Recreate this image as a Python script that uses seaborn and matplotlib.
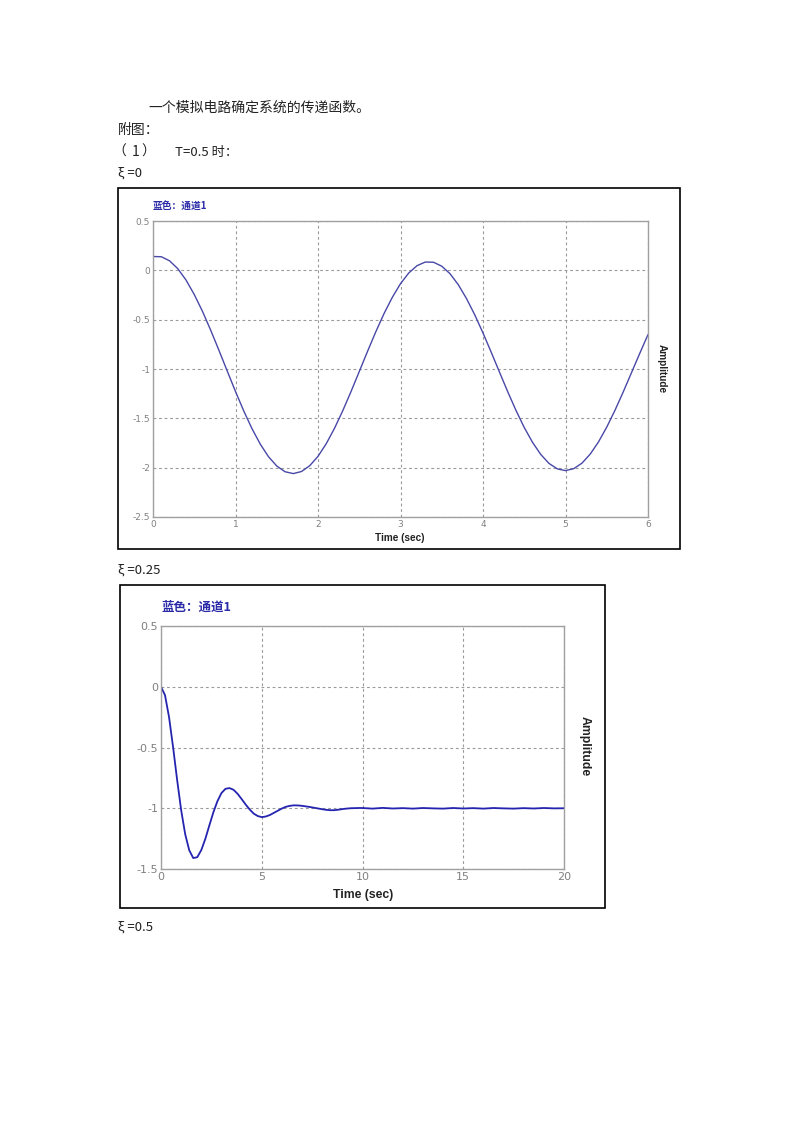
import matplotlib
matplotlib.use("Agg")
import matplotlib.pyplot as plt
from matplotlib.patches import Rectangle
import seaborn as sns
import pandas as pd

# ---------------- data ----------------
t1 = [0.0, 0.1, 0.2, 0.3, 0.4, 0.5, 0.6, 0.7, 0.8, 0.9,
      1.0, 1.1, 1.2, 1.3, 1.4, 1.5, 1.6, 1.7, 1.8, 1.9,
      2.0, 2.1, 2.2, 2.3, 2.4, 2.5, 2.6, 2.7, 2.8, 2.9,
      3.0, 3.1, 3.2, 3.3, 3.4, 3.5, 3.6, 3.7, 3.8, 3.9,
      4.0, 4.1, 4.2, 4.3, 4.4, 4.5, 4.6, 4.7, 4.8, 4.9,
      5.0, 5.1, 5.2, 5.3, 5.4, 5.5, 5.6, 5.7, 5.8, 5.9, 6.0]
y1 = [0.140, 0.138, 0.097, 0.017, -0.098, -0.245, -0.416, -0.608, -0.812, -1.021,
      -1.228, -1.425, -1.605, -1.761, -1.889, -1.983, -2.041, -2.060, -2.039, -1.980,
      -1.885, -1.757, -1.601, -1.423, -1.229, -1.026, -0.822, -0.624, -0.439, -0.275,
      -0.135, -0.027, 0.047, 0.084, 0.082, 0.042, -0.034, -0.145, -0.286, -0.451,
      -0.635, -0.831, -1.032, -1.231, -1.420, -1.593, -1.743, -1.866, -1.957, -2.012,
      -2.030, -2.010, -1.954, -1.862, -1.739, -1.589, -1.418, -1.232, -1.037, -0.842, -0.651]

t2 = [0.0, 0.2, 0.4, 0.6, 0.8, 1.0, 1.2, 1.4, 1.6, 1.8,
      2.0, 2.2, 2.4, 2.6, 2.8, 3.0, 3.2, 3.4, 3.6, 3.8,
      4.0, 4.2, 4.4, 4.6, 4.8, 5.0, 5.2, 5.4, 5.6, 5.8,
      6.0, 6.2, 6.4, 6.6, 6.8, 7.0, 7.2, 7.4, 7.6, 7.8,
      8.0, 8.2, 8.4, 8.6, 8.8, 9.0, 9.2, 9.4, 9.6, 9.8,
      10.0, 10.5, 11.0, 11.5, 12.0, 12.5, 13.0, 13.5, 14.0, 14.5,
      15.0, 15.5, 16.0, 16.5, 17.0, 17.5, 18.0, 18.5, 19.0, 19.5, 20.0]
y2 = [0.0, -0.070, -0.251, -0.498, -0.766, -1.015, -1.213, -1.345, -1.410, -1.403,
      -1.344, -1.252, -1.141, -1.033, -0.942, -0.875, -0.840, -0.834, -0.848, -0.881,
      -0.924, -0.969, -1.010, -1.044, -1.064, -1.073, -1.068, -1.056, -1.038, -1.020,
      -1.002, -0.988, -0.980, -0.976, -0.977, -0.980, -0.985, -0.990, -0.996, -1.002,
      -1.008, -1.013, -1.016, -1.016, -1.012, -1.007, -1.003, -1.000, -0.999, -0.998,
      -0.998, -1.003, -0.997, -1.002, -0.999, -1.003, -0.998, -1.001, -1.003, -0.998,
      -1.002, -0.999, -1.003, -0.998, -1.001, -1.003, -0.999, -1.002, -0.998, -1.001, -1.000]

x1_ticks = [0, 1, 2, 3, 4, 5, 6]
y1_ticks = [0.5, 0, -0.5, -1, -1.5, -2, -2.5]
y1_labels = ["0.5", "0", "-0.5", "-1", "-1.5", "-2", "-2.5"]
x2_ticks = [0, 5, 10, 15, 20]
y2_ticks = [0.5, 0, -0.5, -1, -1.5]
y2_labels = ["0.5", "0", "-0.5", "-1", "-1.5"]

# ---------------- style ----------------
sns.set_style("white")
plt.rcParams['font.family'] = ['Noto Sans CJK SC', 'DejaVu Sans']
plt.rcParams['axes.unicode_minus'] = False

W, H = 800, 1132
fig = plt.figure(figsize=(W / 100, H / 100), dpi=100)


def fx(x):
    return x / W


def fy(y):
    return 1 - y / H


def ftext(x, y, s, **kw):
    kw.setdefault('va', 'center')
    kw.setdefault('ha', 'left')
    fig.text(fx(x), fy(y), s, **kw)


# document text
doc_font = ['Noto Sans CJK SC', 'DejaVu Sans']
ftext(148, 108, "一个模拟电路确定系统的传递函数。", fontsize=10, color='#222', family=doc_font)
ftext(118, 130, "附图：", fontsize=10, color='#222', family=doc_font)
ftext(112, 152, "（", fontsize=10, color='#222', family=doc_font)
ftext(132, 152, "1", fontsize=10, color='#222', family=doc_font)
ftext(141, 152, "）", fontsize=10, color='#222', family=doc_font)
ftext(175, 152, "T=0.5 时：", fontsize=9.5, color='#222', family=doc_font)
ftext(118, 173, "ξ =0", fontsize=9.5, color='#222', family=doc_font)
ftext(118, 570, "ξ =0.25", fontsize=9.5, color='#222', family=doc_font)
ftext(118, 927, "ξ =0.5", fontsize=9.5, color='#222', family=doc_font)

# outer boxes
for (x0, y0, x1, y1_) in [(118, 188, 680, 549), (120, 585, 605, 908)]:
    fig.patches.append(Rectangle((fx(x0), fy(y1_)), fx(x1 - x0), (y1_ - y0) / H,
                                 transform=fig.transFigure, fill=False,
                                 ec='black', lw=1.2))


def style_axes(ax, xt, yt, ylabels, fs):
    ax.set_xticks(xt)
    ax.set_xticklabels([str(v) for v in xt])
    ax.set_yticks(yt)
    ax.set_yticklabels(ylabels)
    ax.tick_params(length=0, labelcolor='#808080', labelsize=fs, pad=2)
    for lab in ax.get_xticklabels() + ax.get_yticklabels():
        lab.set_family(['DejaVu Sans'])
    for sp in ax.spines.values():
        sp.set_color('#a0a0a0')
        sp.set_linewidth(1.0)
    ax.grid(True, linestyle=(0, (2.5, 2.5)), color='#9a9a9a', lw=0.8)
    ax.set_xlabel("")
    ax.set_ylabel("")


# chart 1
ax1 = fig.add_axes([fx(153), fy(517), fx(648 - 153), (517 - 221) / H])
df1 = pd.DataFrame({"t": t1, "y": y1})
sns.lineplot(data=df1, x="t", y="y", ax=ax1, color='#4848a8', lw=1.0)
ax1.set_xlim(0, 6)
ax1.set_ylim(-2.5, 0.5)
style_axes(ax1, x1_ticks, y1_ticks, y1_labels, 6.5)
ftext(153, 206, "蓝色：通道1", fontsize=7, color='#2a2aa8', fontweight='bold',
      family=['Noto Sans CJK SC'])
ftext(400, 538, "Time (sec)", fontsize=7.2, fontweight='bold', ha='center',
      family=['Liberation Sans'], color='#222')
ftext(662, 369, "Amplitude", fontsize=7.2, fontweight='bold', ha='center',
      rotation=-90, family=['Liberation Sans'], color='#222')

# chart 2
ax2 = fig.add_axes([fx(161), fy(869), fx(564 - 161), (869 - 626) / H])
df2 = pd.DataFrame({"t": t2, "y": y2})
sns.lineplot(data=df2, x="t", y="y", ax=ax2, color='#2424b0', lw=1.3)
ax2.set_xlim(0, 20)
ax2.set_ylim(-1.5, 0.5)
style_axes(ax2, x2_ticks, y2_ticks, y2_labels, 8)
ftext(161, 607, "蓝色：通道1", fontsize=9, color='#2a2aa8', fontweight='bold',
      family=['Noto Sans CJK SC'])
ftext(363, 895, "Time (sec)", fontsize=8.8, fontweight='bold', ha='center',
      family=['Liberation Sans'], color='#222')
ftext(585, 746, "Amplitude", fontsize=8.8, fontweight='bold', ha='center',
      rotation=-90, family=['Liberation Sans'], color='#222')

fig.savefig("out.png", dpi=100)
